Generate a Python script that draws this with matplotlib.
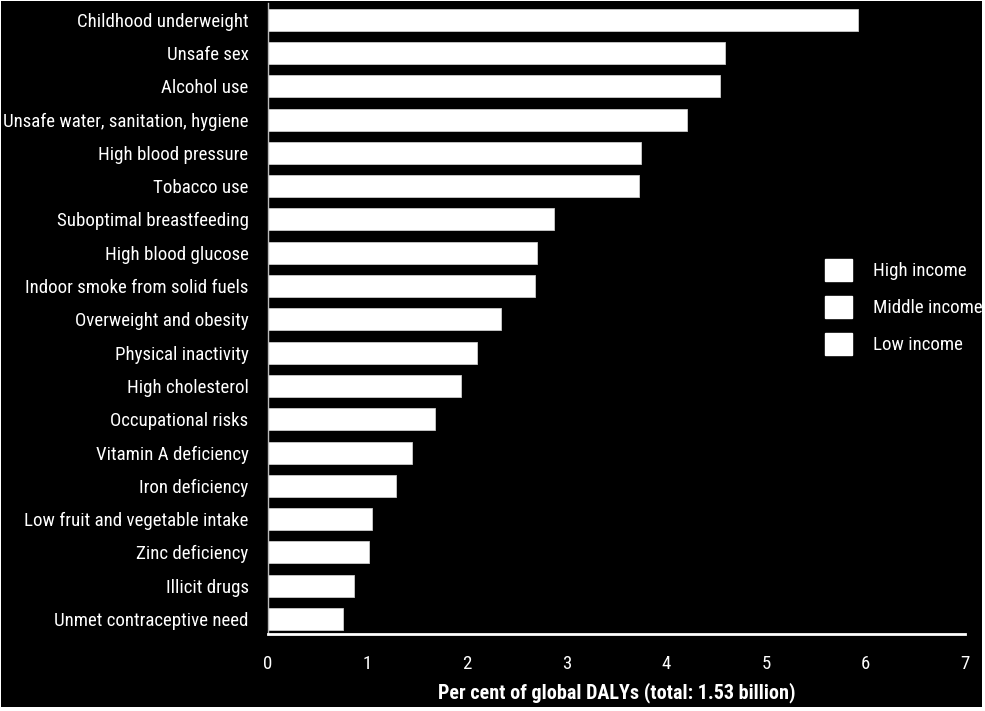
import matplotlib
matplotlib.use("Agg")
import matplotlib.pyplot as plt
from matplotlib.patches import Rectangle, Patch

plt.rcParams["font.family"] = ["Roboto Condensed", "DejaVu Sans"]
plt.rcParams["font.stretch"] = "condensed"

# risk factors, top to bottom
risks = [
    "Childhood underweight",
    "Unsafe sex",
    "Alcohol use",
    "Unsafe water, sanitation, hygiene",
    "High blood pressure",
    "Tobacco use",
    "Suboptimal breastfeeding",
    "High blood glucose",
    "Indoor smoke from solid fuels",
    "Overweight and obesity",
    "Physical inactivity",
    "High cholesterol",
    "Occupational risks",
    "Vitamin A deficiency",
    "Iron deficiency",
    "Low fruit and vegetable intake",
    "Zinc deficiency",
    "Illicit drugs",
    "Unmet contraceptive need",
]
dalys_pct = [5.93, 4.59, 4.54, 4.21, 3.75, 3.73, 2.87, 2.70, 2.68, 2.34,
             2.10, 1.94, 1.68, 1.45, 1.29, 1.04, 1.01, 0.86, 0.75]
legend_labels = ["High income", "Middle income", "Low income"]
xticks = [0, 1, 2, 3, 4, 5, 6, 7]

fs = 13.6

fig = plt.figure(figsize=(9.85, 7.11), dpi=100, facecolor="white")
# black panel with a thin white frame
fig.patches.append(Rectangle((1 / 985, 4 / 711), 981 / 985, 706 / 711,
                             transform=fig.transFigure, facecolor="black",
                             edgecolor="none", zorder=-10))

ax = fig.add_axes([268 / 985, 77 / 711, 697 / 985, 631 / 711])
ax.set_facecolor("black")

ypos = list(range(len(risks)))
ax.barh(ypos, dalys_pct, height=0.66, color="white", edgecolor="#cccccc",
        linewidth=0.6)

ax.set_ylim(18.45, -0.5)
ax.set_xlim(0, 7)
ax.set_yticks(ypos)
ax.set_yticklabels(risks, fontsize=fs, color="white")
ax.set_xticks(xticks)
ax.set_xticklabels([str(t) for t in xticks], fontsize=fs, color="white")
ax.tick_params(axis="both", length=0)
ax.tick_params(axis="y", pad=14)
ax.tick_params(axis="x", pad=15)

for side in ["top", "right"]:
    ax.spines[side].set_visible(False)
ax.spines["bottom"].set_color("white")
ax.spines["bottom"].set_linewidth(2)
ax.spines["left"].set_color("#bbbbbb")
ax.spines["left"].set_linewidth(1)

ax.set_xlabel("Per cent of global DALYs (total: 1.53 billion)", fontsize=14.5,
              color="white", fontweight="bold", labelpad=7)

handles = [Patch(facecolor="white", edgecolor="white") for _ in legend_labels]
leg = ax.legend(handles, legend_labels, loc="center left",
                bbox_to_anchor=(0.7747, 0.518), frameon=False,
                fontsize=fs, labelcolor="white", handlelength=1.44,
                handleheight=1.44, handletextpad=1.1, labelspacing=0.78)

fig.savefig("out.png", dpi=100, facecolor=fig.get_facecolor())
